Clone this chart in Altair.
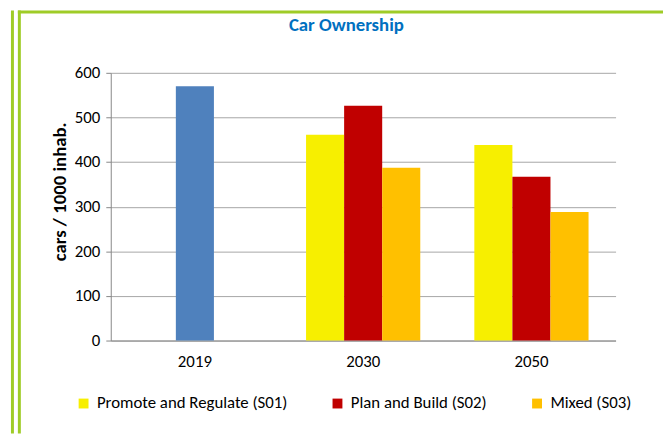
import altair as alt
import pandas as pd

years = ["2019", "2030", "2050"]
slots = ["S01", "S02", "S03"]
series_names = ["Promote and Regulate (S01)", "Plan and Build (S02)", "Mixed (S03)", "2019"]
series_colors = ["#F7EF00", "#C00000", "#FFC000", "#4F81BD"]

row_year = ["2019", "2030", "2030", "2030", "2050", "2050", "2050"]
row_slot = ["S02", "S01", "S02", "S03", "S01", "S02", "S03"]
row_series = ["2019",
              "Promote and Regulate (S01)", "Plan and Build (S02)", "Mixed (S03)",
              "Promote and Regulate (S01)", "Plan and Build (S02)", "Mixed (S03)"]
row_value = [570, 461, 526, 387, 438, 367, 288]

df = pd.DataFrame({"year": row_year, "slot": row_slot, "series": row_series, "value": row_value})

FONT = "Carlito, Lato, sans-serif"
GREEN = "#9FCC27"

bars = alt.Chart(df).mark_bar().encode(
    x=alt.X("year:N", sort=years,
            scale=alt.Scale(paddingInner=0, paddingOuter=0),
            axis=alt.Axis(title=None, labelAngle=0, ticks=False, domainColor="#868686",
                          labelFontSize=17, labelColor="#000000", labelPadding=13,
                          labelFont=FONT)),
    xOffset=alt.XOffset("slot:N", sort=slots, scale=alt.Scale(paddingOuter=0.71, paddingInner=0)),
    y=alt.Y("value:Q", scale=alt.Scale(domain=[0, 600]),
            axis=alt.Axis(title="cars / 1000 inhab.", values=[0, 100, 200, 300, 400, 500, 600],
                          tickSize=5, tickColor="#868686", domainColor="#868686",
                          gridColor="#A6A6A6", labelFontSize=17, labelColor="#000000",
                          labelPadding=6, labelFont=FONT,
                          titleFont=FONT, titleFontSize=19, titleFontWeight="bold",
                          titleColor="#000000", titleX=-52, titleY=120,
                          titleAlign="center", titleBaseline="middle")),
    color=alt.Color("series:N",
                    scale=alt.Scale(domain=series_names, range=series_colors),
                    legend=alt.Legend(title=None, values=series_names[:3], orient="none",
                                      direction="horizontal", legendX=-36, legendY=326,
                                      symbolType="square", symbolSize=100, symbolStrokeWidth=0,
                                      labelFont=FONT, labelFontSize=17, labelColor="#000000",
                                      labelOffset=5, columnPadding=42, labelLimit=400)),
)

frame_df = pd.DataFrame({"k": [0]})
left_outer = alt.Chart(frame_df).mark_rule(color=GREEN, strokeWidth=3).encode(
    x=alt.value(-99.5), y=alt.value(-63), y2=alt.value(365))
left_frame = alt.Chart(frame_df).mark_rule(color=GREEN, strokeWidth=3).encode(
    x=alt.value(-92.5), y=alt.value(-63), y2=alt.value(365))
top_frame = alt.Chart(frame_df).mark_rule(color=GREEN, strokeWidth=3).encode(
    x=alt.value(-94), x2=alt.value(560), y=alt.value(-61.5))

chart = alt.layer(bars, left_outer, left_frame, top_frame).properties(
    width=511, height=271,
    padding={"left": 104, "top": 63, "right": 48, "bottom": 94},
    autosize=alt.AutoSizeParams(type="none"),
    title=alt.Title("Car Ownership", font=FONT, fontSize=19, fontWeight="bold",
                    color="#0070C0", anchor="middle", frame="group", dx=-17,
                    baseline="alphabetic", offset=0, dy=41),
).configure_view(stroke=None)

chart.save("out.html", embed_options={"renderer": "svg", "actions": False})
